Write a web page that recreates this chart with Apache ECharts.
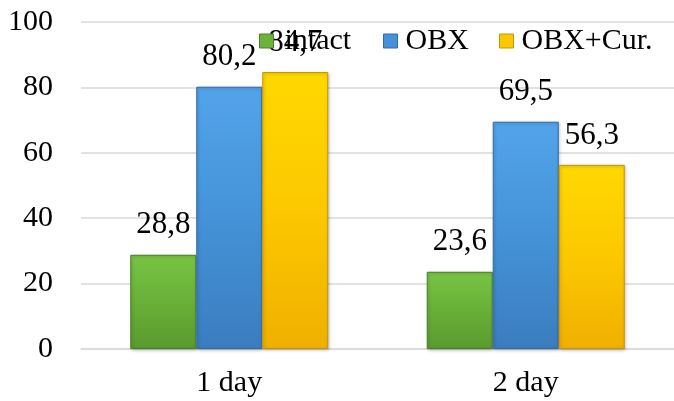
<!DOCTYPE html>
<html>
<head>
<meta charset="utf-8">
<script src="https://cdn.jsdelivr.net/npm/echarts@6/dist/echarts.min.js"></script>
<style>
  html, body { margin: 0; padding: 0; background: #fff; }
  #chart { width: 674px; height: 401px; }
</style>
</head>
<body>
<div id="chart"></div>
<script>
// Categories and values
var categories = ['1 day', '2 day'];
var seriesNames = ['intact', 'OBX', 'OBX+Cur.'];
var intactValues = [28.8, 23.6];
var obxValues = [80.2, 69.5];
var obxCurValues = [84.7, 56.3];
var yTicks = [0, 20, 40, 60, 80, 100];

var FONT = '"Liberation Serif", "Times New Roman", serif';

// Vertical gradient with a darker rim, giving the bars a bevelled look
function barFill(light, mid, dark) {
  return new echarts.graphic.LinearGradient(0, 0, 0, 1, [
    { offset: 0, color: light },
    { offset: 0.5, color: mid },
    { offset: 1, color: dark }
  ]);
}

var palette = [
  { fill: barFill('#78c443', '#68b038', '#5a9a2e'), border: '#4d7f28', icon: '#6cb33c' },
  { fill: barFill('#52a4ea', '#4592d8', '#3a7dbf'), border: '#326b9f', icon: '#4592d8' },
  { fill: barFill('#ffd800', '#fcc800', '#f0b000'), border: '#c99400', icon: '#fcc800' }
];

function makeSeries(name, values, idx) {
  return {
    name: name,
    type: 'bar',
    data: values,
    barWidth: 66,
    barGap: '0%',
    itemStyle: {
      color: palette[idx].fill,
      borderColor: palette[idx].border,
      borderWidth: 1,
      shadowColor: 'rgba(0,0,0,0.25)',
      shadowBlur: 3,
      shadowOffsetX: 1,
      shadowOffsetY: 1
    },
    label: {
      show: true,
      position: 'top',
      distance: 14,
      fontFamily: FONT,
      fontSize: 31,
      color: '#000',
      formatter: function (p) { return String(p.value).replace('.', ','); }
    }
  };
}

function legendAt(name, left, idx) {
  return {
    data: [{ name: name, itemStyle: { color: palette[idx].icon, borderColor: palette[idx].border, borderWidth: 1 } }],
    left: left,
    top: 26,
    padding: 0,
    icon: 'rect',
    itemWidth: 14,
    itemHeight: 14,
    textStyle: { fontFamily: FONT, fontSize: 30, color: '#000', padding: [0, 0, 0, idx === 0 ? 6 : 3] }
  };
}

var chart = echarts.init(document.getElementById('chart'), null, { renderer: 'canvas' });
chart.setOption({
  animation: false,
  backgroundColor: '#fff',
  grid: { left: 81, right: -7, top: 22, bottom: 52, containLabel: false },
  legend: [
    legendAt(seriesNames[0], 259, 0),
    legendAt(seriesNames[1], 383, 1),
    legendAt(seriesNames[2], 499, 2)
  ],
  xAxis: {
    type: 'category',
    data: categories,
    axisTick: { show: false },
    axisLine: { lineStyle: { color: '#d9d9d9', width: 1.5 } },
    axisLabel: { fontFamily: FONT, fontSize: 30, color: '#000', margin: 19 }
  },
  yAxis: {
    type: 'value',
    min: yTicks[0],
    max: yTicks[yTicks.length - 1],
    interval: 20,
    axisLine: { show: false },
    axisTick: { show: false },
    splitLine: { lineStyle: { color: '#d9d9d9', width: 1.5 } },
    axisLabel: { fontFamily: FONT, fontSize: 30, color: '#000', margin: 28 }
  },
  series: [
    makeSeries(seriesNames[0], intactValues, 0),
    makeSeries(seriesNames[1], obxValues, 1),
    makeSeries(seriesNames[2], obxCurValues, 2)
  ]
});
</script>
</body>
</html>
